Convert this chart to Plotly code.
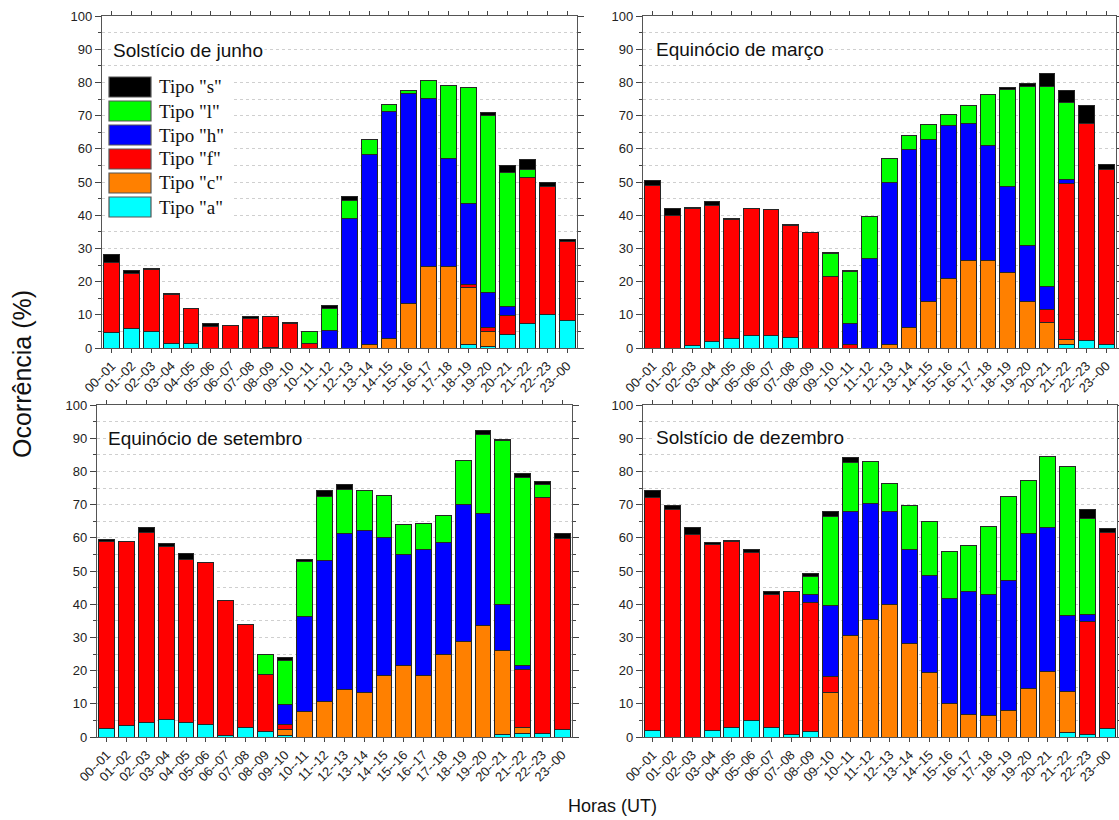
import plotly.graph_objects as go

W, H = 1119, 820

hours = ["00--01", "01--02", "02--03", "03--04", "04--05", "05--06", "06--07", "07--08",
         "08--09", "09--10", "10--11", "11--12", "12--13", "13--14", "14--15", "15--16",
         "16--17", "17--18", "18--19", "19--20", "20--21", "21--22", "22--23", "23--00"]

types = ["a", "c", "f", "h", "l", "s"]
type_labels = ['Tipo "a"', 'Tipo "c"', 'Tipo "f"', 'Tipo "h"', 'Tipo "l"', 'Tipo "s"']
type_colors = ["#00FFFF", "#FF8000", "#FF0000", "#0000FF", "#00FF00", "#000000"]

panel_titles = ["Solstício de junho", "Equinócio de março",
                "Equinócio de setembro", "Solstício de dezembro"]

# Solstício de junho
jun_a = [4.8, 6.0, 5.0, 1.4, 1.3, 0, 0, 0, 0.2, 0, 0, 0, 0, 0, 0, 0, 0, 0, 1.1, 0.6, 4.0, 7.3, 10.0, 8.4]
jun_c = [0, 0, 0, 0, 0, 0, 0, 0, 0, 0, 0, 0, 0, 1.0, 2.9, 13.4, 24.7, 24.7, 17.2, 4.3, 0, 0, 0, 0]
jun_f = [21.1, 16.4, 18.5, 14.7, 10.5, 6.6, 6.9, 8.8, 9.4, 7.3, 1.5, 0, 0, 0, 0, 0, 0, 0, 0.8, 1.2, 5.9, 44.1, 38.6, 23.6]
jun_h = [0, 0, 0, 0, 0, 0, 0, 0, 0, 0, 0, 5.4, 39.1, 57.2, 68.2, 63.3, 50.6, 32.4, 24.5, 10.6, 2.7, 0, 0, 0]
jun_l = [0, 0, 0, 0, 0, 0, 0, 0, 0, 0, 3.4, 6.6, 5.4, 4.6, 2.1, 0.9, 5.4, 22.1, 34.9, 53.2, 40.2, 2.3, 0, 0]
jun_s = [2.2, 1.0, 0.4, 0.2, 0.1, 0.7, 0, 0.6, 0, 0.3, 0, 0.8, 1.0, 0, 0, 0, 0, 0, 0, 1.0, 2.3, 3.2, 1.4, 0.6]

# Equinócio de março
mar_a = [0, 0, 0.8, 2.1, 2.9, 3.8, 3.9, 3.2, 0, 0, 0, 0, 0, 0, 0, 0, 0, 0, 0, 0, 0, 1.0, 2.2, 1.1]
mar_c = [0, 0, 0, 0, 0, 0, 0, 0, 0, 0, 0, 0, 1.2, 6.3, 14.1, 20.9, 26.3, 26.4, 22.7, 13.9, 7.7, 1.6, 0, 0]
mar_f = [48.9, 40.0, 41.2, 40.9, 35.8, 38.3, 37.7, 33.7, 34.7, 21.5, 1.0, 0, 0, 0, 0, 0, 0, 0, 0, 0, 4.0, 46.9, 65.5, 52.6]
mar_h = [0, 0, 0, 0, 0, 0, 0, 0, 0, 0, 6.4, 26.9, 48.7, 53.5, 48.8, 46.1, 41.3, 34.6, 25.9, 17.0, 6.9, 1.3, 0, 0]
mar_l = [0, 0, 0, 0, 0, 0, 0, 0, 0, 7.0, 15.5, 12.8, 7.2, 4.1, 4.4, 3.3, 5.3, 15.5, 29.3, 47.8, 60.1, 23.1, 0, 0]
mar_s = [1.7, 2.1, 0.4, 1.1, 0.4, 0, 0, 0.2, 0.1, 0.4, 0.5, 0, 0, 0, 0, 0, 0, 0, 0.6, 0.9, 3.9, 3.8, 5.3, 1.5]

# Equinócio de setembro
set_a = [2.7, 3.5, 4.3, 5.3, 4.3, 3.7, 0.5, 2.8, 1.6, 0.5, 0, 0, 0, 0, 0, 0, 0, 0, 0, 0, 0.8, 1.2, 1.2, 2.2]
set_c = [0, 0, 0, 0, 0, 0, 0, 0, 0, 1.7, 7.6, 10.6, 14.2, 13.3, 18.6, 21.4, 18.5, 25.0, 28.7, 33.6, 25.4, 1.6, 0, 0]
set_f = [56.3, 55.5, 57.2, 52.2, 49.3, 48.8, 40.7, 31.1, 17.1, 1.5, 0, 0, 0, 0, 0, 0, 0, 0, 0, 0, 0, 17.4, 71.0, 57.5]
set_h = [0, 0, 0, 0, 0, 0, 0, 0, 0, 6.0, 28.6, 42.5, 47.1, 48.9, 41.5, 33.5, 38.0, 33.7, 41.4, 33.8, 13.6, 1.4, 0, 0]
set_l = [0, 0, 0, 0, 0, 0, 0, 0, 6.2, 13.4, 16.7, 19.2, 13.4, 11.9, 12.6, 9.0, 7.9, 7.9, 13.2, 23.8, 49.5, 56.6, 4.0, 0]
set_s = [0.6, 0, 1.5, 0.7, 1.6, 0, 0, 0, 0, 0.7, 0.7, 1.9, 1.4, 0, 0, 0, 0, 0, 0, 1.0, 0.2, 1.2, 0.9, 1.7]

# Solstício de dezembro
dez_a = [1.9, 0, 0, 1.9, 2.9, 4.9, 2.8, 0.7, 1.6, 0, 0, 0, 0, 0, 0, 0, 0, 0, 0, 0, 0, 1.4, 0.7, 2.6]
dez_c = [0, 0, 0, 0, 0, 0, 0, 0, 0, 13.3, 30.5, 35.5, 40.0, 28.3, 19.4, 10.0, 6.9, 6.6, 8.1, 14.6, 19.7, 12.4, 0, 0]
dez_f = [70.3, 68.4, 60.9, 56.0, 56.0, 50.7, 40.0, 43.2, 39.0, 5.0, 0, 0, 0, 0, 0, 0, 0, 0, 0, 0, 0, 0, 34.2, 59.1]
dez_h = [0, 0, 0, 0, 0, 0, 0, 0, 2.4, 21.3, 37.3, 34.7, 27.9, 28.3, 29.3, 31.6, 36.9, 36.2, 38.9, 46.8, 43.5, 22.7, 1.9, 0]
dez_l = [0, 0, 0, 0, 0, 0, 0, 0, 5.4, 26.7, 14.8, 12.9, 8.5, 13.0, 16.3, 14.3, 14.0, 20.6, 25.4, 15.8, 21.2, 45.1, 29.1, 0]
dez_s = [2.0, 1.3, 2.3, 0.7, 0.2, 0.9, 0.9, 0, 0.7, 1.6, 1.6, 0, 0, 0, 0, 0, 0, 0, 0, 0, 0, 0, 2.6, 1.1]

panels = [
    [jun_a, jun_c, jun_f, jun_h, jun_l, jun_s],
    [mar_a, mar_c, mar_f, mar_h, mar_l, mar_s],
    [set_a, set_c, set_f, set_h, set_l, set_s],
    [dez_a, dez_c, dez_f, dez_h, dez_l, dez_s],
]

# plot-area boxes in pixels: (left, right, top, bottom)
boxes = [(102, 577, 16, 348), (643, 1116, 16, 348),
         (97, 572, 405, 737), (643, 1117, 405, 737)]


def px_x(v):
    return v / W


def px_y(v):
    return 1 - v / H


fig = go.Figure()

for p, series in enumerate(panels):
    xa = "x" if p == 0 else f"x{p + 1}"
    ya = "y" if p == 0 else f"y{p + 1}"
    for k, vals in enumerate(series):
        fig.add_trace(go.Bar(
            x=hours, y=[v if v else None for v in vals],
            name=type_labels[k], xaxis=xa, yaxis=ya,
            marker=dict(color=type_colors[k], line=dict(color="#262626", width=1)),
            showlegend=False,
        ))

tick_font = dict(family="Liberation Sans, Arial, sans-serif", size=13, color="#222")
layout = dict(
    width=W, height=H, barmode="stack", bargap=0.2,
    margin=dict(l=0, r=0, t=0, b=0, autoexpand=False),
    paper_bgcolor="white", plot_bgcolor="white",
    font=dict(family="Liberation Sans, Arial, sans-serif", color="#111"),
)

for p, (l, r, t, b) in enumerate(boxes):
    sfx = "" if p == 0 else str(p + 1)
    layout["xaxis" + sfx] = dict(
        domain=[px_x(l), px_x(r)], anchor="y" + sfx, automargin=False,
        range=[-0.5, 23.5], type="category",
        tickangle=-45, tickfont=dict(family="Liberation Sans, Arial, sans-serif", size=13, color="#222"),
        ticks="outside", ticklen=4, tickcolor="#444",
        showline=True, linecolor="#555", linewidth=1.2, mirror="ticks",
        showgrid=False, zeroline=False,
    )
    layout["yaxis" + sfx] = dict(
        domain=[px_y(b), px_y(t)], anchor="x" + sfx, automargin=False,
        range=[0, 100], dtick=10, tickfont=tick_font,
        ticks="outside", ticklen=6, tickcolor="#444",
        showline=True, linecolor="#555", linewidth=1.2, mirror="ticks",
        showgrid=True, gridcolor="#cfcfcf", griddash="dot", gridwidth=1,
        minor=dict(dtick=5, ticks="outside", ticklen=3, tickcolor="#444",
                   showgrid=True, gridcolor="#cfcfcf", griddash="dot", gridwidth=1),
        zeroline=False,
    )

fig.update_layout(**layout)

annotations = []
title_pos = [(111, 50), (654, 49), (106, 438), (654, 437)]
for (tx, ty), txt in zip(title_pos, panel_titles):
    annotations.append(dict(
        text=txt, x=px_x(tx), y=px_y(ty), xref="paper", yref="paper",
        xanchor="left", yanchor="middle", showarrow=False,
        font=dict(family="Liberation Sans, Arial, sans-serif", size=19, color="#111"),
        bgcolor="white", borderpad=1,
    ))

annotations.append(dict(
    text="Ocorrência (%)", x=px_x(22), y=px_y(374), xref="paper", yref="paper",
    textangle=-90, showarrow=False, xanchor="center", yanchor="middle",
    font=dict(family="Liberation Sans, Arial, sans-serif", size=25, color="#111"),
))
annotations.append(dict(
    text="Horas (UT)", x=px_x(612), y=px_y(806), xref="paper", yref="paper",
    showarrow=False, xanchor="center", yanchor="middle",
    font=dict(family="Liberation Sans, Arial, sans-serif", size=18, color="#111"),
))

# legend block in the first panel: top row is Tipo "s", bottom row Tipo "a"
shapes = [dict(type="rect", xref="paper", yref="paper",
               x0=px_x(105), x1=px_x(232), y0=px_y(218), y1=px_y(74),
               fillcolor="white", line=dict(width=0), layer="above")]
for row, k in enumerate(reversed(range(len(types)))):
    top = 77 + row * 24
    shapes.append(dict(
        type="rect", xref="paper", yref="paper",
        x0=px_x(109), x1=px_x(151), y0=px_y(top + 20), y1=px_y(top),
        fillcolor=type_colors[k], line=dict(color="#555", width=1.2), layer="above",
    ))
    annotations.append(dict(
        text=type_labels[k], x=px_x(157), y=px_y(top + 10), xref="paper", yref="paper",
        xanchor="left", yanchor="middle", showarrow=False,
        font=dict(family="Liberation Serif, Times New Roman, serif", size=19, color="#111"),
    ))

fig.update_layout(annotations=annotations, shapes=shapes)

fig.write_html("out.html")
